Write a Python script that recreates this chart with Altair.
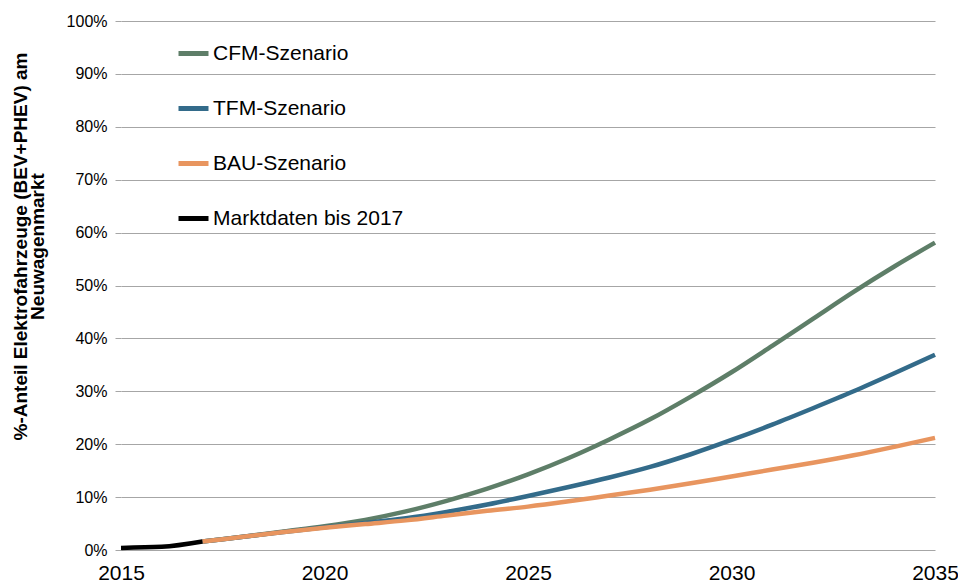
import altair as alt
import pandas as pd

# ---- data ----
years_markt = [2015, 2016, 2017]
markt = [0.4, 0.6, 1.6]

years_scen = list(range(2017, 2036))
cfm = [1.6, 2.5, 3.5, 4.5, 5.7, 7.3, 9.3, 11.6, 14.3, 17.4, 20.9, 24.7, 29.0, 33.6, 38.6, 43.7, 48.8, 53.6, 58.1]
tfm = [1.6, 2.5, 3.4, 4.3, 5.1, 6.0, 7.2, 8.6, 10.2, 11.9, 13.7, 15.7, 18.1, 20.8, 23.7, 26.8, 30.0, 33.4, 36.9]
bau = [1.6, 2.5, 3.4, 4.2, 4.9, 5.6, 6.5, 7.4, 8.2, 9.2, 10.3, 11.4, 12.6, 13.9, 15.2, 16.5, 17.9, 19.5, 21.2]

series_names = ["CFM-Szenario", "TFM-Szenario", "BAU-Szenario", "Marktdaten bis 2017"]
series_colors = ["#5e7e68", "#336b8a", "#e8955f", "#000000"]

y_ticks = list(range(0, 101, 10))
x_ticks = [2015, 2020, 2025, 2030, 2035]

rows = []
for name, ys, xs in [
    (series_names[0], cfm, years_scen),
    (series_names[1], tfm, years_scen),
    (series_names[2], bau, years_scen),
    (series_names[3], markt, years_markt),
]:
    for xv, yv in zip(xs, ys):
        rows.append({"Jahr": xv, "Anteil": yv, "Serie": name})
df = pd.DataFrame(rows)

color = alt.Color(
    "Serie:N",
    scale=alt.Scale(domain=series_names, range=series_colors),
    sort=series_names,
    legend=alt.Legend(
        title=None,
        orient="none",
        legendX=55,
        legendY=15,
        symbolType="stroke",
        symbolSize=900,
        symbolStrokeWidth=5,
        labelFontSize=21,
        labelFont="Liberation Sans",
        labelColor="#000000",
        labelOffset=2,
        rowPadding=27,
        labelLimit=400,
    ),
)

x = alt.X(
    "Jahr:Q",
    scale=alt.Scale(domain=[2015, 2035], nice=False, zero=False),
    axis=alt.Axis(
        values=x_ticks,
        format="d",
        grid=False,
        domain=False,
        ticks=False,
        labelFontSize=21,
        labelPadding=12,
        labelColor="#000000",
        title=None,
        labelFlush=False,
    ),
)
y = alt.Y(
    "Anteil:Q",
    scale=alt.Scale(domain=[0, 100], nice=False),
    axis=alt.Axis(
        values=y_ticks,
        labelExpr="datum.value + '%'",
        grid=True,
        gridColor="#a6a6a6",
        gridWidth=1.2,
        domain=False,
        ticks=True,
        tickSize=6,
        tickColor="#a6a6a6",
        labelFontSize=16,
        labelPadding=8,
        labelColor="#000000",
        title=["%-Anteil Elektrofahrzeuge (BEV+PHEV) am", "Neuwagenmarkt"],
        titleFontSize=19,
        titleFontWeight="bold",
        titleColor="#000000",
        titleAngle=-90,
        titleX=-110,
        titleY=225,
        titleAlign="center",
        titleBaseline="top",
        titleLineHeight=17,
    ),
)

layers = []
for name in series_names:
    layers.append(
        alt.Chart(df)
        .transform_filter(alt.datum.Serie == name)
        .mark_line(strokeWidth=4.5, interpolate="monotone")
        .encode(x=x, y=y, color=color, order=alt.Order("Jahr:Q"))
    )

chart = (
    alt.layer(*layers)
    .properties(
        width=814,
        height=529,
        autosize=alt.AutoSizeParams(type="none"),
        padding={"left": 113, "top": 13, "right": 23, "bottom": 34},
    )
    .configure(font="Liberation Sans")
    .configure_view(stroke=None)
)

chart.save("out.html", embed_options={"renderer": "svg", "actions": False})
